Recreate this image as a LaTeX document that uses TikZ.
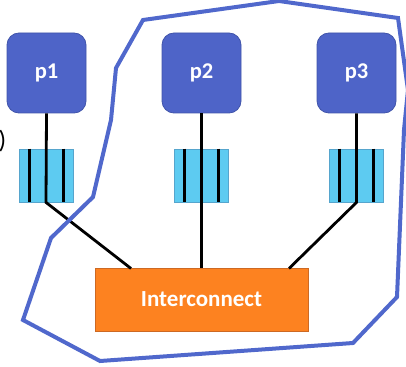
\documentclass[tikz,border=0pt]{standalone}
\usepackage{fontspec}
\setmainfont{Carlito}
\definecolor{procblue}{RGB}{78,100,200}
\definecolor{procedge}{RGB}{64,84,170}
\definecolor{qfill}{RGB}{93,203,241}
\definecolor{qedge}{RGB}{86,165,205}
\definecolor{icfill}{RGB}{253,130,32}
\definecolor{icedge}{RGB}{205,105,35}
\definecolor{regionblue}{RGB}{80,104,204}
\begin{document}
\begin{tikzpicture}[x=1pt,y=-1pt,
  proc/.style={draw=procedge,line width=0.8pt,fill=procblue,rounded corners=12pt,
    minimum width=79pt,minimum height=80pt,inner sep=0pt,
    text=white,font=\fontsize{22.5}{24}\selectfont\bfseries},
  queue/.style={draw=qedge,line width=0.8pt,fill=qfill,minimum width=54pt,minimum height=53pt,inner sep=0pt},
  slot/.style={line width=3pt,black},
  wire/.style={line width=2.8pt,black},
  ic/.style={draw=icedge,line width=0.8pt,fill=icfill,minimum width=213pt,minimum height=63pt,
    inner sep=0pt,text=white,font=\fontsize{23}{25}\selectfont\bfseries},
  region/.style={draw=regionblue,line width=4pt,line join=miter}]
\useasboundingbox (0,0) rectangle (406,366);

% processes
\node[proc] (p1) at (46.5,73) {p1};
\node[proc] (p2) at (201.5,73) {p2};
\node[proc] (p3) at (356.5,73) {p3};

% message queues
\node[queue] (q1) at (46,175.5) {};
\node[queue] (q2) at (201.5,175.5) {};
\node[queue] (q3) at (356.5,175.5) {};
\foreach \q in {q1,q2,q3}{
  \draw[slot] ([xshift=-17pt]\q.north) -- ([xshift=-17pt]\q.south);
  \draw[slot] ([xshift=17pt]\q.north) -- ([xshift=17pt]\q.south);
}

% interconnect
\node[ic] (ic) at (201.5,299.5) {Interconnect};
\coordinate (icL) at (131,268.5);
\coordinate (icR) at (289,268.5);

% wires
\draw[wire] (p1.south) -- (q1.south) -- (icL);
\draw[wire] (p2.south) -- (q2.south) -- (ic.north);
\draw[wire] (p3.south) -- (q3.south) -- (icR);

% partly visible bracket at the left edge
\node[anchor=east,inner sep=0pt,font=\fontsize{25}{27}\selectfont] (br) at (6.5,141) {)};

% region outline
\draw[region] (143,20) -- (279,1) -- (398,18) -- (408,90) -- (404,130) -- (397,297)
  -- (353,343) -- (100,361) -- (23,320) -- (51,238) -- (93,197) -- (111,120)
  -- (116,68) -- cycle;
\end{tikzpicture}
\end{document}
